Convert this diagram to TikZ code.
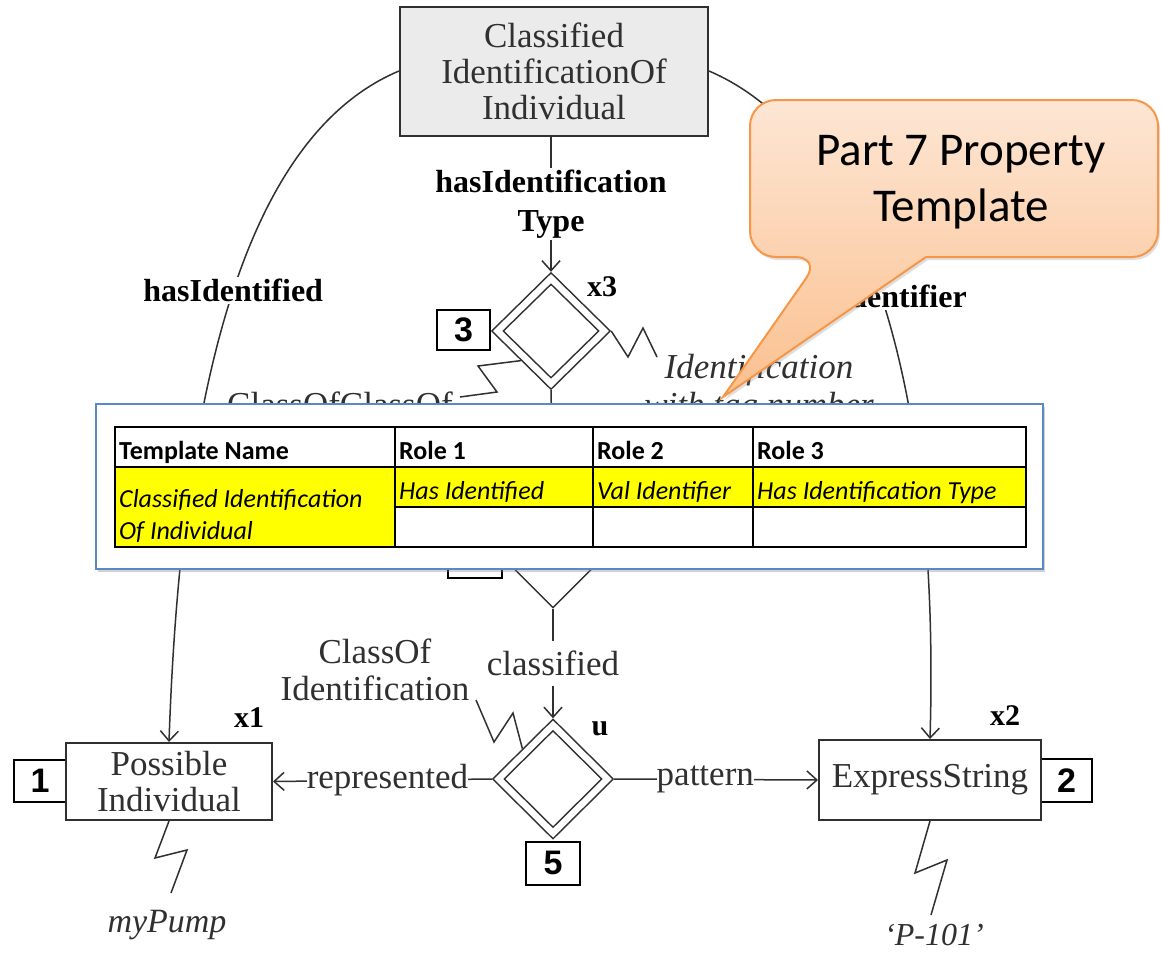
\documentclass[tikz,border=0pt]{standalone}
\usepackage{fontspec}
\setmainfont{Liberation Serif}
\newfontfamily\calibrifont{Carlito}
\newfontfamily\digitfont{Liberation Sans}
\usetikzlibrary{arrows.meta,shapes.geometric,shadows}

\definecolor{ink}{HTML}{303030}
\definecolor{boxgray}{HTML}{EBEBEB}
\definecolor{calloutedge}{HTML}{F79646}
\definecolor{callouttop}{HTML}{FDE6D4}
\definecolor{calloutbot}{HTML}{FBC08F}
\definecolor{panelblue}{HTML}{5B89C6}
\definecolor{hiyellow}{HTML}{FFFF00}

\newcommand{\fsz}[2]{\fontsize{#1pt}{#2pt}\selectfont}

\begin{document}
\begin{tikzpicture}[x=1pt,y=-1pt,
  conn/.style={draw=ink,line width=1.5pt},
  arr/.style={conn,-{Straight Barb[length=10pt,width=18pt]}},
  classbox/.style={draw=ink,line width=2pt,fill=white,align=center,
    font=\fsz{35}{36},text=ink,inner sep=0pt},
  numbox/.style={draw=black,line width=2pt,fill=white,
    font=\digitfont\bfseries\fsz{34}{34},inner sep=0pt},
  rolelabel/.style={font=\bfseries\fsz{32}{39},text=black,align=center,
    fill=white,inner xsep=2pt,inner ysep=2pt},
  varlabel/.style={font=\bfseries\fsz{30}{30},text=black},
  plainlabel/.style={font=\fsz{35}{37},text=ink,align=center},
  instlabel/.style={font=\itshape\fsz{34}{38},text=ink,align=center},
  dia/.style={shape=diamond,draw=ink,line width=1.4pt,inner sep=0pt},
  hdr/.style={font=\calibrifont\bfseries\fsz{26}{30},text=black,inner sep=0pt},
  cell/.style={font=\calibrifont\itshape\fsz{26}{30},text=black,inner sep=0pt},
  callout/.style={draw=calloutedge,line width=2pt,top color=callouttop,
    bottom color=calloutbot,
    drop shadow={shadow xshift=2pt,shadow yshift=-3pt,opacity=0.25}},
]
\useasboundingbox (0,0) rectangle (1161,954);
\fill[white] (0,0) rectangle (1161,954);

% ---------- classes ----------
\node[classbox,fill=boxgray,minimum width=308pt,minimum height=129pt]
  (cioi) at (554,71) {Classified\\IdentificationOf\\Individual};
\node[numbox,minimum width=52pt,minimum height=42pt] (n1) at (40,781) {1};
\node[classbox,minimum width=206pt,minimum height=77pt]
  (pind) at (169,781.5) {Possible\\Individual};
\node[numbox,minimum width=51pt,minimum height=43pt] (n2) at (1066.5,780.5) {2};
\node[classbox,minimum width=222pt,minimum height=80pt]
  (estr) at (930,780) {ExpressString};

% ---------- relations ----------
\node[dia,minimum width=119pt,minimum height=117pt] (d3) at (551,331) {};
\node[dia,minimum width=96pt,minimum height=94pt] (d3in) at (551,331) {};
\node[numbox,minimum width=53pt,minimum height=40pt] (n3) at (463.5,330) {3};

\node[dia,minimum width=116pt,minimum height=116pt] (d4) at (553,550) {};
\node[numbox,minimum width=54pt,minimum height=41pt] (n4) at (475,557.5) {4};

\node[dia,minimum width=121pt,minimum height=120pt] (d5) at (553,779) {};
\node[dia,minimum width=98pt,minimum height=97pt] (d5in) at (553,779) {};
\node[numbox,minimum width=54pt,minimum height=43pt] (n5) at (553,863) {5};

% ---------- variable names ----------
\node[varlabel] (vx1) at (249,718) {x1};
\node[varlabel] (vx2) at (1005,716) {x2};
\node[varlabel] (vx3) at (602,287) {x3};
\node[varlabel] (vu) at (600,729) {u};

% ---------- role connectors ----------
\draw[arr] (cioi.south -| d3.north) -- node[rolelabel] (lbltype)
  {hasIdentification\\Type} (d3.north);
\draw[conn] (d3.south) -- (d4.north);
\draw[arr] (d4.south) -- node[plainlabel,fill=white,inner xsep=2pt,inner ysep=10pt]
  (lblcls) {classified} (d5.north);
\draw[arr] (d5.west) -- node[pos=0.477,plainlabel,fill=white,inner sep=0pt]
  (lblrep) {represented} (pind.east);
\draw[arr] (d5.east) -- node[pos=0.447,plainlabel,fill=white,inner sep=0pt]
  (lblpat) {pattern} (estr.west);

\draw[arr] (cioi.west) .. controls (235,140) and (180,420) .. (pind.north)
  node[pos=0.47,rolelabel] (lblhid) {hasIdentified};
\draw[arr] (cioi.east) .. controls (870,140) and (940,400) .. (estr.north)
  node[pos=0.49,rolelabel] (lblval) {valIdentifier};

% ---------- naming zigzags ----------
\coordinate (zpump) at (171,893);
\coordinate (zstr) at (931,915);
\coordinate (zcoi) at (476,700);
\coordinate (zidt) at (657,357);
\coordinate (zcoc) at (460,397);

\draw[conn] (pind.south) -- (155,858) -- (187,850) -- (zpump);
\draw[conn] (estr.south) -- (915,873) -- (947,860) -- (zstr);
\draw[conn] (d5.north west) -- (513,713) -- (494,742) -- (zcoi);
\draw[conn] (d3.east) -- (628,357) -- (643,328) -- (zidt);
\draw[conn] (d3.south west) -- (478,366) -- (497,392) -- (zcoc);

\node[instlabel,anchor=base] (mypump) at (167,932) {myPump};
\node[instlabel,font=\itshape\fsz{32}{32},anchor=base] (ptag) at (934,945) {‘P-101’};
\node[plainlabel] (coilbl) at (375,670) {ClassOf\\Identification};
\node[instlabel,font=\itshape\fsz{35}{38}] (idlbl) at (759,389) {Identification\\with tag number};
\node[plainlabel,anchor=base] (coclbl) at (340,416) {ClassOfClassOf};

% ---------- callout ----------
\path[callout] (926,257) [rounded corners=26pt] -- (1158,257) -- (1158,100)
  -- (750,100) -- (750,257) -- (821,257) [sharp corners] -- (723,397) -- cycle;
\node[font=\calibrifont\fsz{47}{56},align=center,text=black]
  (calltext) at (961,182) {Part 7 Property\\Template};

% ---------- template table panel ----------
\node[draw=panelblue,line width=1.5pt,fill=white,inner sep=0pt,
  minimum width=947pt,minimum height=165pt,
  drop shadow={shadow xshift=2pt,shadow yshift=-3pt,opacity=0.35}]
  (panel) at (569.5,486.5) {};

\fill[hiyellow] (115,467) rectangle (1026,507);
\fill[hiyellow] (115,507) rectangle (395,547);
\draw[black,line width=1.4pt] (115,427) rectangle (1026,547);
\draw[black,line width=1.4pt] (115,467) -- (1026,467);
\draw[black,line width=1.4pt] (395,507) -- (1026,507);
\draw[black,line width=1.4pt] (395,427) -- (395,547);
\draw[black,line width=1.4pt] (593,427) -- (593,547);
\draw[black,line width=1.4pt] (753,427) -- (753,547);

\node[hdr,anchor=base west] (hname) at (119,459) {Template Name};
\node[hdr,anchor=base west] (hrole1) at (399,459) {Role 1};
\node[hdr,anchor=base west] (hrole2) at (597,459) {Role 2};
\node[hdr,anchor=base west] (hrole3) at (757,459) {Role 3};
\node[cell,anchor=base west] (cname1) at (119,507) {Classified Identification};
\node[cell,anchor=base west] (cname2) at (119,539) {Of Individual};
\node[cell,anchor=base west] (crole1) at (399,499) {Has Identified};
\node[cell,anchor=base west] (crole2) at (597,499) {Val Identifier};
\node[cell,anchor=base west] (crole3) at (757,499) {Has Identification Type};
\end{tikzpicture}
\end{document}
